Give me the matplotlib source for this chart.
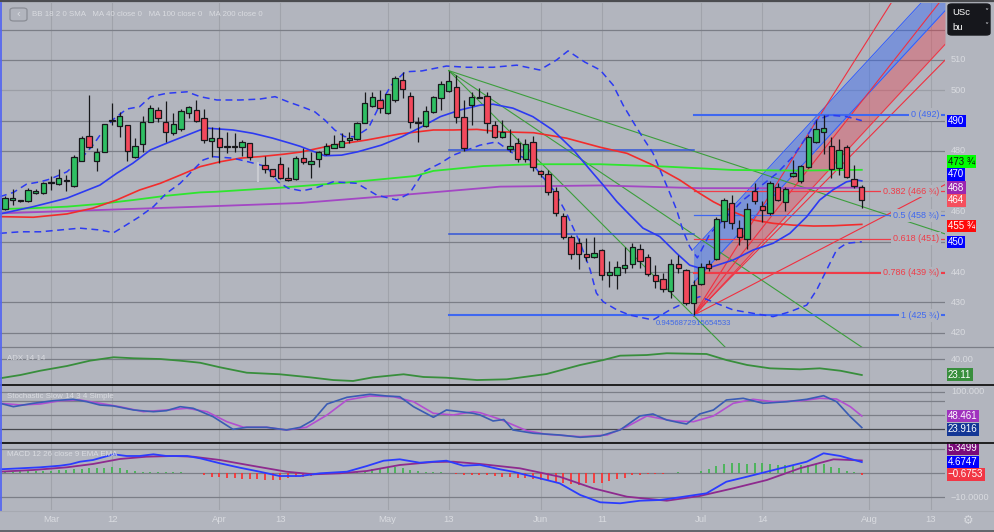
import numpy as np
import matplotlib
matplotlib.use("Agg")
import matplotlib.pyplot as plt
import matplotlib.transforms as mtransforms
from matplotlib.lines import Line2D
from matplotlib.patches import FancyBboxPatch, Rectangle

plt.rcParams['font.family'] = ['Liberation Sans', 'DejaVu Sans']

# ---------- values (x = bar number) ----------
OPEN = [460.8, 463.8, 463.4, 463.6, 466.0, 466.0, 469.4, 469.0, 470.1, 468.5,
        476.8, 484.9, 476.8, 479.8, 489.8, 488.3, 488.4, 478.1, 482.2, 489.6,
        493.5, 489.6, 485.8, 487.1, 492.4, 493.5, 490.8, 483.3, 484.4, 481.6,
        481.5, 481.4, 482.5, None, 475.3, 473.9, 475.6, 471.0, 470.7, 477.8,
        475.7, 477.2, 478.9, 481.1, 481.4, 483.5, 483.9, 489.3, 494.9, 496.8,
        492.4, 496.8, 503.4, 498.2, 489.6, 488.3, 492.9, 497.4, 499.9, 501.0,
        491.3, 495.1, 497.7, 498.1, 488.5, 484.7, 480.5, 482.5, 477.2, 482.8,
        473.5, 472.3, 466.9, 458.6, 451.5, 449.5, 445.9, 444.9, 447.3, 439.1,
        439.1, 441.3, 442.6, 447.5, 444.9, 439.0, 437.7, 433.8, 442.6, 440.7,
        429.7, 436.0, 442.6, 444.3, 456.7, 462.9, 454.5, 450.8, 466.8, 461.9,
        459.4, 468.2, 463.0, 471.8, 469.9, 474.8, 482.8, 486.1, 481.7, 474.5,
        481.4, 470.7, 468.2]
HIGH = [465.2, 467.3, 463.7, 467.8, 467.3, 469.6, 471.8, 474.0, 472.0, 478.5,
        484.8, 498.4, 480.9, 489.0, 495.8, 493.0, 488.6, 484.4, 491.6, 495.3,
        494.6, 496.5, 492.5, 493.8, 494.8, 496.8, 493.7, 488.0, 488.0, 486.3,
        486.0, 483.6, 482.6, None, 478.3, 474.0, 478.1, 474.8, 478.4, 480.9,
        479.8, 480.1, 482.6, 485.2, 486.0, 486.3, 489.5, 499.3, 499.5, 500.1,
        498.9, 504.8, 506.1, 499.5, 491.3, 494.9, 498.0, 503.2, 506.5, 505.0,
        496.8, 499.5, 500.7, 499.5, 490.0, 490.2, 487.2, 484.2, 484.0, 484.9,
        473.8, 473.7, 468.2, 459.5, 452.2, 451.2, 451.2, 451.6, 447.5, 443.7,
        443.5, 448.4, 449.5, 449.3, 446.0, 442.3, 439.6, 444.3, 445.6, 440.9,
        437.5, 443.0, 444.0, 458.2, 464.6, 465.4, 457.2, 462.7, 469.3, 463.3,
        470.0, 469.3, 468.2, 477.0, 475.5, 485.2, 490.2, 492.0, 484.7, 483.8,
        481.8, 475.3, 468.7]
LOW = [460.5, 462.1, 463.2, 463.0, 465.8, 465.9, 467.1, 468.8, 466.8, 468.2,
       476.5, 480.9, 473.5, 479.6, 488.5, 484.7, 476.7, 477.6, 479.8, 489.5,
       489.4, 483.0, 485.3, 486.6, 491.0, 489.5, 482.5, 478.1, 475.9, 479.2,
       479.5, 478.4, 477.0, None, 472.6, 471.5, 470.7, 470.1, 470.4, 475.7,
       471.2, 474.6, 478.6, 480.9, 481.2, 482.5, 483.7, 489.1, 494.5, 492.4,
       492.2, 496.2, 497.6, 487.7, 482.8, 488.0, 492.5, 493.5, 499.5, 489.1,
       480.0, 488.5, 497.3, 485.8, 484.2, 484.2, 479.8, 476.4, 476.4, 473.2,
       471.5, 465.4, 458.5, 450.8, 444.3, 441.0, 443.7, 444.5, 437.4, 435.2,
       434.4, 439.6, 441.3, 441.5, 438.6, 434.7, 433.5, 431.6, 439.6, 429.3,
       425.75, 435.7, 440.2, 443.9, 454.7, 454.2, 448.9, 447.6, 462.5, 456.6,
       459.0, 463.3, 460.0, 471.5, 469.5, 474.5, 482.5, 478.9, 471.2, 472.2,
       471.2, 467.9, 461.1]
CLOSE = [464.5, 464.4, 463.5, 467.0, 466.9, 469.3, 469.6, 471.0, 470.3, 477.9,
         484.4, 481.4, 479.5, 488.8, 490.1, 491.4, 479.9, 481.5, 489.6, 494.3,
         490.7, 486.3, 488.9, 493.2, 494.4, 489.9, 483.6, 484.2, 481.2, 481.3,
         481.4, 482.8, 477.9, None, 473.9, 471.8, 471.0, 470.4, 477.8, 476.4,
         476.8, 479.5, 481.5, 482.2, 483.3, 484.3, 489.3, 495.7, 497.7, 494.1,
         498.7, 504.2, 500.4, 489.6, 489.2, 493.3, 497.7, 502.1, 503.1, 491.1,
         480.9, 497.7, 497.6, 489.1, 484.7, 486.3, 481.7, 477.2, 482.2, 474.8,
         472.4, 466.3, 459.6, 451.5, 446.0, 446.0, 444.9, 446.4, 439.1, 439.9,
         441.6, 442.3, 448.4, 443.8, 439.3, 437.1, 434.4, 442.6, 441.3, 429.7,
         435.7, 441.8, 441.3, 457.4, 463.8, 456.1, 451.7, 460.7, 463.3, 460.5,
         469.3, 463.8, 467.3, 472.8, 475.0, 484.7, 487.2, 487.5, 474.0, 480.3,
         471.5, 468.3, 463.8]
GHOST_BAR = (33, 470.0, 476.3)   # pale empty bar: position, low, high

BB_MID = [(-0.65, 459.2), (3.7, 461.6), (8.1, 464.4), (12.4, 468.7), (14.6, 472.6),
          (16.7, 475.9), (19.0, 480.3), (21.1, 482.5), (23.3, 484.7), (25.5, 486.9),
          (26.4, 487.5), (29.8, 486.9), (32.4, 485.8), (35.0, 484.2), (37.3, 482.5),
          (38.6, 481.5), (41.8, 478.4), (44.0, 478.6), (46.1, 479.7), (49.2, 481.9),
          (51.9, 484.7), (54.5, 488.0), (56.9, 491.3), (59.5, 493.5), (62.1, 495.1),
          (63.8, 495.4), (66.4, 494.1), (69.0, 491.3), (71.6, 486.9), (74.3, 480.3),
          (76.5, 473.7), (78.2, 468.7), (80.0, 463.2), (81.7, 458.8), (83.4, 454.5),
          (85.6, 451.7), (87.8, 446.2), (89.5, 442.3), (90.8, 441.3), (92.5, 441.8),
          (95.2, 444.0), (97.8, 447.3), (100.4, 449.5), (102.6, 452.8), (104.8, 458.3),
          (106.5, 463.8), (108.2, 467.1), (110.0, 469.8), (111.3, 470.4), (112.0, 470.1)]
BB_UP = [(-0.65, 464.9), (1.1, 466.3), (2.8, 469.0), (4.6, 469.8), (5.9, 470.7),
         (8.1, 473.1), (9.8, 477.0), (11.5, 481.9), (12.9, 486.9), (14.2, 490.5),
         (15.9, 493.8), (17.6, 494.6), (19.0, 497.8), (21.1, 499.0), (23.8, 499.5),
         (25.5, 497.9), (27.7, 496.8), (30.7, 496.8), (33.3, 497.1), (35.3, 497.9),
         (37.0, 496.2), (38.8, 494.6), (40.5, 492.9), (41.8, 490.2), (43.1, 486.9),
         (44.4, 484.7), (45.8, 484.7), (47.5, 487.5), (49.2, 496.2), (50.5, 501.7),
         (52.3, 506.1), (54.5, 506.4), (57.7, 508.0), (60.4, 507.6), (63.8, 507.6),
         (66.9, 508.3), (69.9, 506.7), (72.1, 510.0), (73.6, 513.0), (75.8, 509.3),
         (77.8, 506.7), (79.5, 501.7), (80.8, 495.1), (82.1, 489.6), (83.4, 484.3),
         (84.7, 479.3), (86.0, 471.5), (86.9, 466.1), (87.8, 460.5), (88.6, 453.9),
         (89.5, 448.4), (90.5, 444.7), (92.2, 452.9), (94.3, 458.3), (96.5, 463.8),
         (98.7, 468.2), (100.9, 472.6), (103.0, 478.1), (104.8, 484.7), (106.1, 490.2),
         (107.8, 491.8), (110.0, 491.3), (112.0, 490.0)]
BB_LOW = [(-0.65, 452.8), (2.0, 453.3), (4.6, 453.3), (7.2, 453.9), (9.8, 454.5),
          (12.4, 453.9), (14.2, 453.0), (15.5, 455.0), (17.6, 458.3), (19.4, 461.6),
          (21.1, 466.0), (22.9, 469.3), (24.6, 473.7), (25.9, 477.0), (27.2, 478.1),
          (29.8, 477.6), (31.8, 476.4), (34.2, 474.8), (35.7, 469.8), (37.0, 467.7),
          (38.8, 466.8), (40.5, 467.7), (42.9, 469.8), (46.0, 469.3), (48.6, 465.4),
          (51.2, 463.8), (52.9, 466.0), (54.7, 473.1), (56.9, 475.9), (58.6, 478.6),
          (60.4, 480.3), (62.1, 481.9), (64.3, 483.0), (66.4, 479.2), (68.6, 477.0),
          (69.9, 472.6), (71.7, 467.1), (73.4, 459.4), (75.2, 449.5), (76.5, 440.7),
          (77.3, 433.1), (78.2, 430.2), (80.0, 427.5), (81.7, 425.8), (84.7, 424.2),
          (86.9, 427.5), (89.1, 430.2), (90.8, 431.9), (93.0, 429.7), (95.2, 427.5),
          (97.8, 426.4), (100.4, 425.3), (102.6, 426.9), (104.8, 429.1), (106.1, 434.1),
          (107.4, 440.7), (108.7, 447.3), (110.0, 449.5), (112.0, 450.0)]
MA40 = [(-0.65, 458.3), (3.7, 458.1), (8.1, 459.2), (11.5, 461.1), (14.6, 463.8),
        (17.6, 467.1), (20.3, 469.3), (22.9, 472.0), (25.5, 474.8), (28.1, 476.4),
        (30.7, 477.6), (33.3, 478.1), (36.4, 478.9), (38.6, 479.6), (42.9, 481.9),
        (47.3, 483.6), (51.6, 485.6), (56.0, 486.9), (58.6, 486.9), (61.7, 487.1),
        (64.7, 486.3), (69.1, 486.0), (73.4, 484.2), (77.8, 481.2), (81.3, 479.2),
        (84.7, 475.3), (88.2, 470.4), (90.8, 466.0), (92.6, 463.2), (95.2, 459.9),
        (97.8, 457.2), (100.4, 456.1), (103.0, 455.5), (105.7, 455.2), (108.3, 455.3),
        (112.0, 455.75)]
MA100 = [(-0.65, 460.8), (3.7, 461.1), (8.1, 461.6), (12.4, 462.5), (16.8, 463.8),
         (21.1, 465.2), (25.5, 466.3), (27.5, 466.5), (36.2, 467.9), (44.9, 469.6),
         (53.6, 471.7), (56.0, 473.4), (62.5, 475.0), (69.1, 475.6), (77.8, 475.6),
         (86.5, 474.8), (95.2, 473.7), (103.9, 473.5), (112.0, 473.75)]
MA200 = [(-0.65, 459.4), (12.4, 460.5), (25.5, 461.6), (38.6, 462.8), (51.6, 465.4),
         (64.7, 468.2), (77.8, 468.6), (90.8, 467.7), (103.9, 467.7), (112.0, 467.9)]

# drawings on the price pane
GREEN_FAN_FROM = (58, 506.5)
GREEN_FAN_TO = [(122.9, 452.6), (122.9, 396.8), (122.9, 342.6)]
RED_FAN_FROM = (90, 425.75)
RED_FAN_TO = [(122.9, 557.0), (122.9, 531.4), (122.9, 510.0), (122.9, 468.9)]
REG_START, REG_MID, REG_SLOPE, REG_DEV = 90, 436.5, 2.73, 11.1
PEARSON = '0.9456872915654533'
FIB_LEVELS = [('0', 492.0, '(492)'), ('0.382', 466.75, '(466 ¾)'), ('0.5', 458.75, '(458 ¾)'),
              ('0.618', 451.0, '(451)'), ('0.786', 439.75, '(439 ¾)'), ('1', 425.75, '(425 ¾)')]
SIDE_LINES = [(58, 90, 480.25), (58, 90, 452.6)]

ADX = [(-0.65, 19.6), (2.0, 23.1), (4.6, 27.7), (8.1, 32.8), (11.1, 38.5), (14.2, 42.2),
       (16.8, 41.1), (20.3, 40.3), (22.9, 38.5), (25.5, 36.3), (28.1, 31.4), (31.6, 25.6),
       (35.9, 23.9), (39.9, 20.6), (42.9, 17.7), (45.5, 16.7), (48.1, 20.6), (52.1, 23.9),
       (54.7, 21.0), (57.7, 20.2), (61.7, 17.7), (65.6, 18.5), (70.8, 24.2), (75.2, 33.9),
       (78.2, 39.2), (80.4, 43.9), (83.9, 44.6), (86.5, 46.5), (91.7, 45.7), (94.3, 39.2),
       (97.0, 33.9), (100.0, 30.3), (103.9, 29.2), (106.5, 30.3), (109.2, 27.7), (112.0, 23.11)]
STOCH_K = [(-0.65, 75.4), (1.1, 68.2), (3.7, 75.4), (6.3, 80.9), (8.9, 83.9), (10.7, 78.8),
           (12.4, 71.8), (14.2, 69.7), (16.8, 61.2), (19.4, 57.6), (21.1, 59.7), (22.9, 68.2),
           (24.6, 64.8), (27.2, 47.0), (29.8, 20.2), (31.6, 24.5), (34.2, 24.5), (36.8, 18.8),
           (38.6, 24.5), (40.3, 40.0), (42.1, 73.9), (44.7, 88.1), (47.7, 94.5), (49.9, 90.9),
           (51.6, 89.4), (53.4, 68.2), (56.0, 45.7), (57.7, 61.2), (59.5, 57.6), (61.2, 54.2),
           (62.1, 50.6), (63.8, 37.9), (65.2, 41.0), (66.4, 18.8), (69.1, 11.8), (72.5, 8.2),
           (75.2, 3.3), (77.8, 6.0), (80.4, 18.8), (83.0, 48.5), (84.7, 52.7), (86.5, 40.0),
           (88.2, 34.2), (89.1, 31.5), (90.8, 52.7), (92.6, 61.2), (94.3, 82.4), (96.5, 86.0),
           (99.1, 75.4), (102.2, 78.8), (104.8, 83.9), (107.0, 91.5), (108.7, 78.8),
           (110.5, 47.0), (112.0, 23.916)]
STOCH_D = [(-0.65, 75.4), (2.0, 71.8), (4.6, 73.9), (7.2, 80.9), (9.8, 82.4), (12.4, 75.4),
           (15.0, 68.2), (18.1, 57.6), (21.1, 61.2), (23.8, 64.8), (26.4, 57.6), (29.0, 36.4),
           (31.2, 24.5), (34.2, 24.5), (36.8, 18.8), (39.4, 24.5), (42.1, 50.6), (44.7, 82.4),
           (47.7, 90.9), (50.8, 89.4), (53.4, 78.8), (56.0, 54.2), (58.6, 50.6), (61.2, 57.6),
           (62.1, 55.5), (64.7, 41.5), (68.2, 17.3), (70.8, 9.6), (75.2, 4.6), (78.7, 8.2),
           (81.3, 25.8), (83.9, 48.5), (87.4, 37.9), (90.0, 36.4), (92.6, 48.5), (95.2, 75.4),
           (97.8, 83.9), (100.4, 78.8), (103.9, 80.3), (106.5, 86.0), (108.7, 84.5),
           (110.5, 68.2), (112.0, 48.461)]
MACD = [(-0.65, 1.67), (2.0, 2.08), (4.6, 2.5), (7.2, 3.17), (8.5, 3.75), (9.8, 4.83),
        (11.5, 5.54), (14.2, 7.92), (15.9, 7.21), (17.6, 7.21), (19.4, 7.92), (21.1, 7.21),
        (23.8, 7.21), (25.5, 6.25), (28.1, 4.17), (30.7, 2.33), (33.3, 0.67), (35.9, -1.13),
        (38.6, -1.13), (41.2, 0.0), (44.7, 0.67), (47.3, 3.04), (49.5, 5.25), (51.6, 5.83),
        (54.2, 4.42), (57.7, 5.25), (59.9, 3.17), (62.1, 3.5), (64.7, 1.67), (66.4, 0.67),
        (69.9, -2.08), (72.5, -4.17), (75.2, -9.04), (77.8, -12.08), (80.4, -12.5),
        (83.0, -11.42), (85.6, -11.13), (88.2, -10.0), (91.7, -8.33), (94.3, -3.5),
        (97.0, -1.42), (99.6, 0.67), (102.2, 2.75), (104.8, 4.83), (107.0, 8.33),
        (109.2, 7.21), (112.0, 4.6747)]
SIGNAL = [(-0.65, 0.67), (3.7, 1.38), (8.1, 2.5), (11.5, 3.88), (15.0, 5.96), (18.5, 6.92),
          (22.0, 7.21), (24.6, 6.92), (28.1, 5.54), (32.5, 3.04), (36.8, 0.67), (40.3, -0.42),
          (43.8, 0.0), (47.3, 0.96), (51.6, 3.46), (56.0, 4.71), (58.6, 4.83), (62.1, 3.88),
          (67.3, 2.08), (72.5, -1.42), (76.9, -6.25), (81.3, -9.75), (86.5, -11.42),
          (90.8, -9.46), (95.2, -6.25), (99.6, -2.79), (103.9, 2.08), (108.3, 5.83),
          (112.0, 5.3499)]
HIST = [0.7, 0.7, 0.8, 0.8, 1.1, 1.1, 1.1, 1.4, 1.4, 1.7, 1.7, 2.1, 2.4, 2.4, 2.5, 2.1,
        1.4, 0.8, 0.7, 0.6, 0.6, 0.4, 0.4, 0.4, 0.3, 0.15, -0.7, -1.4, -1.7, -1.9, -2.1,
        -2.2, -2.4, -2.5, -2.8, -2.8, -2.8, -2.1, -1.7, -1.4, -1.1, -0.5, -0.2, 0.1, 0.2,
        0.3, 0.6, 1.1, 1.7, 2.1, 2.5, 2.5, 2.2, 1.4, 1.1, 0.7, 0.6, 0.4, 0.3, -0.3, -0.8,
        -0.8, -0.7, -0.85, -1.25, -1.7, -1.7, -1.9, -2.1, -2.5, -2.8, -3.1, -3.5, -4.2,
        -4.6, -4.9, -4.2, -3.9, -3.9, -3.1, -2.5, -1.8, -0.8, -0.6, -0.4, -0.3, -0.3, 0.3,
        0.4, 0.3, 0.3, 1.1, 1.8, 3.1, 3.9, 4.2, 4.2, 3.9, 4.2, 4.2, 3.9, 3.5, 3.5, 3.2,
        3.5, 3.5, 3.9, 3.9, 2.8, 2.1, 1.1, 0.4, -0.6753]

TICK_POS = [6, 14, 28, 36, 50, 58, 70, 78, 91, 99, 113, 121]
TICK_LABELS = ['Mar', '12', 'Apr', '13', 'May', '13', 'Jun', '11', 'Jul', '14', 'Aug', '13']
PRICE_TICKS = [510, 500, 480, 460, 440, 430, 420]
PRICE_TAGS = [('490', 489.9, '#0000ff', 'white'), ('473 ¾', 476.4, '#00ff00', '#111111'),
              ('470', 472.3, '#0000ff', 'white'), ('468', 467.9, '#9c27b0', 'white'),
              ('464', 463.7, '#f5505e', 'white'), ('455 ¾', 455.2, '#ff0a0a', 'white'),
              ('450', 449.9, '#0000ff', 'white')]
ADX_TAGS = [('23.11', 23.4, '#388e3c', 'white')]
STOCH_TAGS = [('48.461', 48.5, '#a033be', 'white'), ('23.916', 20.3, '#143796', 'white')]
MACD_TAGS = [('5.3499', 10.4, '#7a0a7a', 'white'), ('4.6747', 4.7, '#0000ff', 'white'),
             ('\u22120.6753', -0.45, '#f23645', 'white')]

# ---------- layout ----------
W, H = 994, 532
BG = '#b2b5be'
TXT = '#d9dbe0'
GRID = '#7b7e87'
BAR_PX = 7.65
X_LEFT, X_RIGHT = -5 / BAR_PX, 940 / BAR_PX
PLOT_R = 945

fig = plt.figure(figsize=(W / 100, H / 100), dpi=100)
fig.patch.set_facecolor(BG)


def panel(top, bottom, lo, hi):
    ax = fig.add_axes([0, 1 - bottom / H, PLOT_R / W, (bottom - top) / H])
    ax.set_xlim(X_LEFT, X_RIGHT)
    ax.set_ylim(lo, hi)
    ax.axis('off')
    for t in TICK_POS:
        ax.axvline(t, color='#a0a3ab', lw=0.8, zorder=0)
    return ax


def xy(pts):
    a = np.array(pts, dtype=float)
    return a[:, 0], a[:, 1]


def tags(ax, items):
    tr = mtransforms.blended_transform_factory(fig.transFigure, ax.transData)
    for text, y, bg, fg in items:
        ax.text(948 / W, y, text, transform=tr, ha='left', va='center', fontsize=7.0,
                color=fg, clip_on=False, zorder=30,
                bbox=dict(boxstyle='square,pad=0.14', fc=bg, ec='none'))


def axis_text(ax, y, s):
    tr = mtransforms.blended_transform_factory(fig.transFigure, ax.transData)
    ax.text(951 / W, y, s, transform=tr, ha='left', va='center', fontsize=6.6,
            color=TXT, clip_on=False)


ax = panel(3, 347.3, 415.18, 528.81)
ax_adx = panel(347.3, 385, 12.37, 52.9)
ax_st = panel(385, 443.3, -9.45, 114.2)
ax_m = panel(443.3, 510, -15.29, 12.5)

# ---------- price pane ----------
for p in range(420, 530, 10):
    light = p in (500, 470, 460)
    ax.axhline(p, color='#9b9ea6' if light else GRID, lw=0.9, zorder=0)

# regression trend channel
xs = np.array([REG_START, X_RIGHT])
mid = REG_MID + REG_SLOPE * (xs - REG_START)
ax.fill_between(xs, mid, mid + REG_DEV, color='#2962ff', alpha=0.4, lw=0, zorder=1)
ax.fill_between(xs, mid - REG_DEV, mid, color='#f23645', alpha=0.35, lw=0, zorder=1)
ax.plot(xs, mid + REG_DEV, color='#2f5cff', lw=0.7, zorder=2)
ax.plot(xs, mid, color='#2f5cff', lw=0.7, zorder=2)
ax.plot(xs, mid - REG_DEV, color='#f03444', lw=0.7, zorder=2)
ax.text(REG_START, REG_MID - REG_DEV - 2.5, PEARSON, ha='center', va='center',
        fontsize=5.6, color='#3f68e8', zorder=3)

# fans
for xe, ye in GREEN_FAN_TO:
    ax.plot([GREEN_FAN_FROM[0], xe], [GREEN_FAN_FROM[1], ye], color='#3c9e3c', lw=0.8, zorder=2)
for xe, ye in RED_FAN_TO:
    ax.plot([RED_FAN_FROM[0], xe], [RED_FAN_FROM[1], ye], color='#f03040', lw=0.8, zorder=2)

# blue helper lines left of the fib
for x0, x1, y in SIDE_LINES:
    ax.plot([x0, x1], [y, y], color='#3355d8', lw=1.1, zorder=2)

# fib retracement
label_x = 939 / BAR_PX - 5 / BAR_PX
for lvl, price, txt in FIB_LEVELS:
    col = '#f03c48' if lvl in ('0.382', '0.618', '0.786') else '#3f68f0'
    lw = 1.5 if lvl in ('0', '0.786', '1') else 0.9
    start = 58 if lvl == '1' else REG_START
    ax.plot([start, X_RIGHT], [price, price], color=col, lw=lw, zorder=2)
    ax.text(label_x, price, f'{lvl} {txt}', ha='right', va='center', fontsize=6.5,
            color=col, zorder=4, bbox=dict(boxstyle='square,pad=0.2', fc=BG, ec='none'))

# moving averages and bands
ax.plot(*xy(MA200), color='#a347c4', lw=1.3, zorder=3)
ax.plot(*xy(MA100), color='#2ee62e', lw=1.3, zorder=3)
ax.plot(*xy(MA40), color='#f22c2c', lw=1.2, zorder=3)
ax.plot(*xy(BB_MID), color='#2c3af2', lw=1.2, zorder=3)
for band in (BB_UP, BB_LOW):
    ax.plot(*xy(band), color='#2c3af2', lw=1.1, dashes=(4.5, 3.0), zorder=3)

# candles
o, h, l, c = (np.array(v, dtype=float) for v in (OPEN, HIGH, LOW, CLOSE))
idx = np.arange(len(o))
ok = ~np.isnan(o)
up = c >= o
ax.vlines(idx[ok], l[ok], h[ok], color='#17181b', lw=0.9, zorder=5)
ax.bar(idx[ok], np.maximum(np.abs(c - o), 0.25)[ok], bottom=np.minimum(o, c)[ok], width=0.7,
       color=np.where(up, '#2fbf63', '#f2495c')[ok], edgecolor='#17181b', linewidth=0.9, zorder=6)
gx, glo, ghi = GHOST_BAR
ax.add_patch(Rectangle((gx - 0.12, glo), 0.24, ghi - glo, fill=False, ec='#c9cbd1', lw=0.8, zorder=5))

for p in PRICE_TICKS:
    axis_text(ax, p, str(p))
tags(ax, PRICE_TAGS)

# ---------- ADX ----------
ax_adx.axhline(40, color=GRID, lw=0.9, zorder=0)
ax_adx.plot(*xy(ADX), color='#388e3c', lw=1.3)
axis_text(ax_adx, 40, '40.00')
tags(ax_adx, ADX_TAGS)

# ---------- Stochastic ----------
for lv, col in ((100, GRID), (80, GRID), (50, GRID), (20, '#45474d'), (-6, '#9da0a8')):
    ax_st.axhline(lv, color=col, lw=0.9, zorder=0)
ax_st.plot(*xy(STOCH_D), color='#b24fd0', lw=1.2)
ax_st.plot(*xy(STOCH_K), color='#3a5cb4', lw=1.2)
axis_text(ax_st, 100, '100.000')
tags(ax_st, STOCH_TAGS)

# ---------- MACD ----------
for lv in (10, 0, -10):
    ax_m.axhline(lv, color=GRID, lw=0.9, zorder=0)
hist = np.array(HIST)
hidx = np.arange(len(hist))
ax_m.vlines(hidx, 0, hist, colors=np.where(hist >= 0, '#3cb44b', '#ff2b2b'), lw=1.2, zorder=2)
ax_m.plot(*xy(SIGNAL), color='#8e2a8e', lw=1.3, zorder=3)
ax_m.plot(*xy(MACD), color='#2b3cff', lw=1.3, zorder=3)
axis_text(ax_m, -10, '\u221210.0000')
tags(ax_m, MACD_TAGS)

# ---------- frame, separators, labels ----------
def hline_px(y, col, lw, x0=0, x1=W):
    fig.add_artist(Line2D([x0 / W, x1 / W], [1 - y / H, 1 - y / H], color=col, lw=lw,
                          transform=fig.transFigure))

hline_px(0.8, '#4b4c50', 1.6)
hline_px(347.3, GRID, 0.9)
hline_px(385, '#141414', 1.3)
hline_px(443.3, '#141414', 1.3)
hline_px(510.5, '#a6a9b1', 0.8)
hline_px(531, '#55575c', 1.2)
fig.add_artist(Line2D([0.6 / W, 0.6 / W], [1 - 3 / H, 1 - 510 / H], color='#5567f0', lw=1.3,
                      transform=fig.transFigure))

for t, lab in zip(TICK_POS, TICK_LABELS):
    xp = 5 + t * BAR_PX
    fig.text(xp / W, 1 - 520 / H, lab, ha='center', va='center', fontsize=6.8, color=TXT)
fig.text(968 / W, 1 - 520 / H, '\u2699', ha='center', va='center', fontsize=8.5,
         color=TXT, family='DejaVu Sans')

fig.text(32 / W, 1 - 15 / H, 'BB 18 2 0 SMA   MA 40 close 0   MA 100 close 0   MA 200 close 0',
         ha='left', va='center', fontsize=5.7, color=TXT)
fig.add_artist(FancyBboxPatch((10 / W, 1 - 21 / H), 17 / W, 13 / H,
                              boxstyle='round,pad=0,rounding_size=0.004', fc='none',
                              ec='#8a8d95', lw=0.9, transform=fig.transFigure))
fig.text(18.5 / W, 1 - 14.5 / H, '\u2039', ha='center', va='center', fontsize=8, color=TXT)

fig.add_artist(FancyBboxPatch((948 / W, 1 - 35 / H), 42 / W, 31 / H,
                              boxstyle='round,pad=0,rounding_size=0.004', fc='#16171c',
                              ec='#16171c', transform=fig.transFigure))
fig.text(952 / W, 1 - 12.5 / H, 'USc', ha='left', va='center', fontsize=6.8, color='white')
fig.text(952 / W, 1 - 27.5 / H, 'bu', ha='left', va='center', fontsize=6.8, color='white')
fig.text(986 / W, 1 - 12 / H, '\u02c5', ha='center', va='center', fontsize=6, color='#cfd1d6',
         family='DejaVu Sans')
fig.text(986 / W, 1 - 27 / H, '\u02c5', ha='center', va='center', fontsize=6, color='#cfd1d6',
         family='DejaVu Sans')

for lab, y in (('ADX 14 14', 359), ('Stochastic Slow 14 3 4 Simple', 397),
               ('MACD 12 26 close 9 EMA EMA', 455)):
    fig.text(7 / W, 1 - y / H, lab, ha='left', va='center', fontsize=5.7, color=TXT)

fig.savefig('out.png', dpi=100, facecolor=BG)
